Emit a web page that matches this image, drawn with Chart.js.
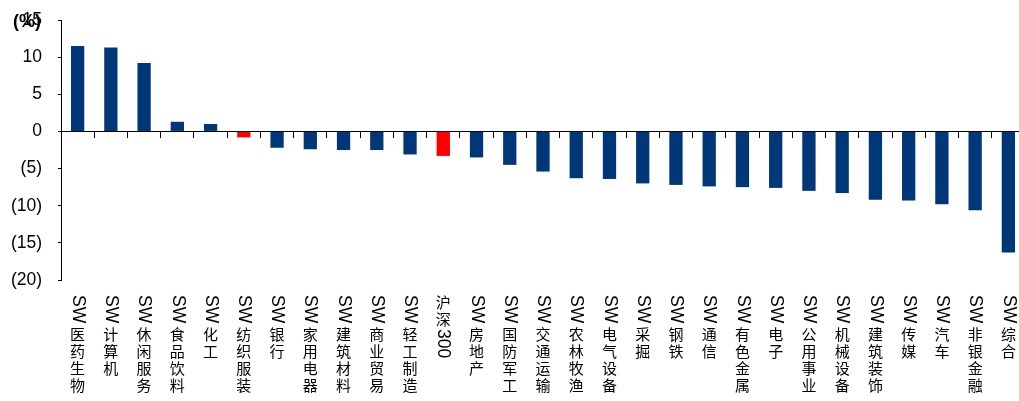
<!DOCTYPE html>
<html><head><meta charset="utf-8">
<script src="https://cdn.jsdelivr.net/npm/chart.js@4"></script>
<style>
html,body{margin:0;padding:0;background:#fff;overflow:hidden;width:1019px;height:401px}
#wrap{position:absolute;left:0;top:0;width:1030px;height:401px}
</style>
</head><body><div id="wrap"><canvas id="c" width="1030" height="401"></canvas></div>
<script>
const categories = ['SW医药生物','SW计算机','SW休闲服务','SW食品饮料','SW化工','SW纺织服装','SW银行','SW家用电器','SW建筑材料','SW商业贸易','SW轻工制造','沪深300','SW房地产','SW国防军工','SW交通运输','SW农林牧渔','SW电气设备','SW采掘','SW钢铁','SW通信','SW有色金属','SW电子','SW公用事业','SW机械设备','SW建筑装饰','SW传媒','SW汽车','SW非银金融','SW综合'];
const values = [11.5, 11.3, 9.2, 1.3, 1.0, -0.8, -2.2, -2.4, -2.5, -2.5, -3.1, -3.3, -3.5, -4.5, -5.4, -6.3, -6.4, -7.0, -7.2, -7.4, -7.5, -7.6, -8.0, -8.3, -9.2, -9.3, -9.8, -10.6, -16.3];
const highlighted = ['SW纺织服装','沪深300'];
const yTicks = [-20,-15,-10,-5,0,5,10,15];
const unitLabel = '(%)';

const BLUE = '#003778', RED = '#FF0000';

const verticalLabels = {
  id: 'vlabels',
  afterDraw(chart) {
    const ctx = chart.ctx, xs = chart.scales.x;
    ctx.save();
    ctx.fillStyle = '#000';
    categories.forEach((lab, i) => {
      const x = xs.getPixelForValue(i);
      let y = 295;
      const parts = lab.match(/[A-Za-z0-9]+|[^A-Za-z0-9]/g);
      parts.forEach(p => {
        if (/^[A-Za-z0-9]+$/.test(p)) {
          ctx.font = '17.5px "Liberation Sans", Arial, sans-serif';
          const w = ctx.measureText(p).width;
          ctx.save();
          ctx.translate(x, y);
          ctx.rotate(Math.PI / 2);
          ctx.textAlign = 'left';
          ctx.textBaseline = 'middle';
          ctx.fillText(p, 0, 0);
          ctx.restore();
          y += w + 4;
        } else {
          ctx.font = '15px "Noto Sans CJK SC", sans-serif';
          ctx.textAlign = 'center';
          ctx.textBaseline = 'top';
          ctx.fillText(p, x, y);
          y += 17;
        }
      });
    });
    ctx.font = 'bold 18px "Liberation Sans", Arial, sans-serif';
    ctx.textAlign = 'right';
    ctx.textBaseline = 'middle';
    ctx.fillText(unitLabel, 41, 22);
    ctx.restore();
  }
};

new Chart(document.getElementById('c'), {
  type: 'bar',
  data: {
    labels: categories,
    datasets: [{
      data: values,
      backgroundColor: c => highlighted.includes(categories[c.dataIndex]) ? RED : BLUE,
      borderWidth: 0,
      barPercentage: 0.4,
      categoryPercentage: 1
    }]
  },
  options: {
    responsive: false,
    devicePixelRatio: 1,
    animation: false,
    layout: { padding: { left: 0, top: 20, right: 5, bottom: 121 } },
    plugins: { legend: { display: false }, tooltip: { enabled: false } },
    scales: {
      x: {
        position: { y: 0 },
        offset: true,
        afterFit: s => { s.height = 0; s.paddingTop = 0; s.paddingBottom = 0; s.paddingLeft = 0; s.paddingRight = 0; },
        grid: { offset: true, drawOnChartArea: false, drawTicks: true, tickLength: 6, color: '#000', lineWidth: 1 },
        border: { display: true, color: '#000', width: 1 },
        ticks: { display: false }
      },
      y: {
        min: -20, max: 15,
        afterBuildTicks: s => { s.ticks = yTicks.map(v => ({ value: v })); },
        afterFit: s => { s.width = 61; s.paddingTop = 0; s.paddingBottom = 0; },
        grid: { drawOnChartArea: false, drawTicks: true, tickLength: 3, color: '#000', lineWidth: 1 },
        border: { display: true, color: '#000', width: 1 },
        ticks: {
          padding: 16, color: '#000',
          font: { family: '"Liberation Sans", Arial, sans-serif', size: 17.5 },
          callback: v => v < 0 ? '(' + (-v) + ')' : String(v)
        }
      }
    }
  },
  plugins: [verticalLabels]
});
</script>
</body></html>
